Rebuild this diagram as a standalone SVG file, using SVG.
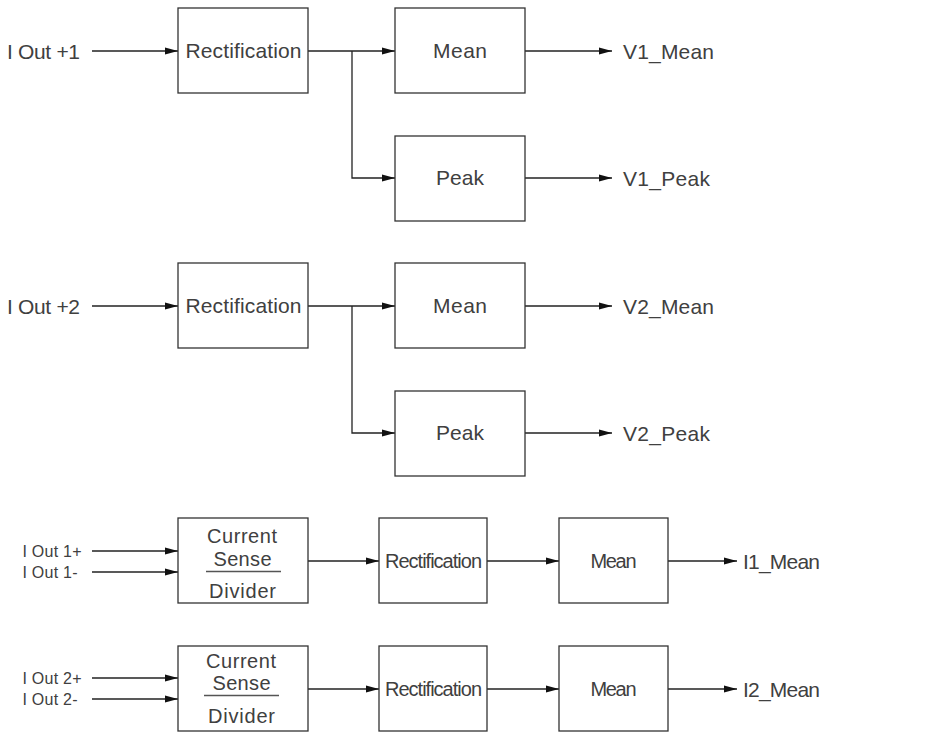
<svg xmlns="http://www.w3.org/2000/svg" width="927" height="732" viewBox="0 0 927 732">
<defs>
<marker id="arr" markerWidth="13" markerHeight="8" refX="13" refY="4" orient="auto" markerUnits="userSpaceOnUse">
<path d="M0,0.5 L13,4 L0,7.5 z" fill="#111"/>
</marker>
<style>
.box{fill:#fff;stroke:#333;stroke-width:1.3}
.t{font-family:"Liberation Sans",Arial,sans-serif;font-size:21px;fill:#404040;text-anchor:middle}
.b{font-family:"Liberation Sans",Arial,sans-serif;font-size:20px;fill:#404040;text-anchor:middle}
.l{font-family:"Liberation Sans",Arial,sans-serif;font-size:21px;fill:#404040}
.s{font-family:"Liberation Sans",Arial,sans-serif;font-size:16px;fill:#404040}
.a{fill:none;stroke:#222;stroke-width:1.3;marker-end:url(#arr)}
.d{stroke:#555;stroke-width:1.5}
</style>
</defs>
<rect width="927" height="732" fill="#fff"/>

<g id="connectors">
<line class="a" x1="92" y1="51" x2="178" y2="51"/>
<line class="a" x1="308" y1="51" x2="395" y2="51"/>
<polyline class="a" points="352,51 352,178 395,178"/>
<line class="a" x1="525" y1="51" x2="612" y2="51"/>
<line class="a" x1="525" y1="178" x2="612" y2="178"/>
<line class="a" x1="92" y1="306" x2="178" y2="306"/>
<line class="a" x1="308" y1="306" x2="395" y2="306"/>
<polyline class="a" points="352,306 352,433 395,433"/>
<line class="a" x1="525" y1="306" x2="612" y2="306"/>
<line class="a" x1="525" y1="433" x2="612" y2="433"/>
<line class="a" x1="92" y1="551" x2="178" y2="551"/>
<line class="a" x1="92" y1="572" x2="178" y2="572"/>
<line class="a" x1="308" y1="561" x2="379" y2="561"/>
<line class="a" x1="487" y1="561" x2="559" y2="561"/>
<line class="a" x1="668" y1="561" x2="737" y2="561"/>
<line class="a" x1="92" y1="678" x2="178" y2="678"/>
<line class="a" x1="92" y1="699" x2="178" y2="699"/>
<line class="a" x1="308" y1="689" x2="379" y2="689"/>
<line class="a" x1="487" y1="689" x2="559" y2="689"/>
<line class="a" x1="668" y1="689" x2="737" y2="689"/>
</g>

<g id="labels">
<text class="l" x="7" y="58.5" textLength="73">I Out +1</text>
<text class="l" x="623" y="58.5" textLength="91">V1_Mean</text>
<text class="l" x="623" y="185.5" textLength="87">V1_Peak</text>
<text class="l" x="7" y="313.5" textLength="73">I Out +2</text>
<text class="l" x="623" y="313.5" textLength="91">V2_Mean</text>
<text class="l" x="623" y="440.5" textLength="87">V2_Peak</text>
<text class="s" x="22.5" y="557" textLength="59">I Out 1+</text>
<text class="s" x="22.5" y="578" textLength="55">I Out 1-</text>
<text class="l" x="743" y="568.5" textLength="77">I1_Mean</text>
<text class="s" x="22.5" y="684" textLength="59">I Out 2+</text>
<text class="s" x="22.5" y="705" textLength="55">I Out 2-</text>
<text class="l" x="743" y="696.5" textLength="77">I2_Mean</text>
</g>

<g id="rect1"><rect class="box" x="178" y="8" width="130" height="85"/><text class="t" x="243.5" y="58" textLength="116">Rectification</text></g>
<g id="mean1"><rect class="box" x="395" y="8" width="130" height="85"/><text class="t" x="460" y="58" textLength="54">Mean</text></g>
<g id="peak1"><rect class="box" x="395" y="136" width="130" height="85"/><text class="t" x="460" y="185" textLength="48">Peak</text></g>

<g id="rect2"><rect class="box" x="178" y="263" width="130" height="85"/><text class="t" x="243.5" y="313" textLength="116">Rectification</text></g>
<g id="mean2"><rect class="box" x="395" y="263" width="130" height="85"/><text class="t" x="460" y="313" textLength="54">Mean</text></g>
<g id="peak2"><rect class="box" x="395" y="391" width="130" height="85"/><text class="t" x="460" y="440" textLength="48">Peak</text></g>

<g id="cs1"><rect class="box" x="178" y="518" width="130" height="85"/>
<text class="b" x="242" y="543" textLength="70">Current</text>
<text class="b" x="242.5" y="565.5" textLength="58">Sense</text>
<line class="d" x1="206" y1="571.5" x2="281" y2="571.5"/>
<text class="b" x="242.5" y="597.5" textLength="67">Divider</text></g>
<g id="rect3"><rect class="box" x="379" y="518" width="108" height="85"/><text class="b" x="433.5" y="567.5" textLength="97">Rectification</text></g>
<g id="mean3"><rect class="box" x="559" y="518" width="109" height="85"/><text class="b" x="613.5" y="567.5" textLength="46">Mean</text></g>

<g id="cs2"><rect class="box" x="178" y="646" width="130" height="85"/>
<text class="b" x="241" y="668" textLength="70">Current</text>
<text class="b" x="241.5" y="689.5" textLength="58">Sense</text>
<line class="d" x1="204" y1="695.5" x2="279" y2="695.5"/>
<text class="b" x="241.5" y="722.5" textLength="67">Divider</text></g>
<g id="rect4"><rect class="box" x="379" y="646" width="108" height="85"/><text class="b" x="433.5" y="695.5" textLength="97">Rectification</text></g>
<g id="mean4"><rect class="box" x="559" y="646" width="109" height="85"/><text class="b" x="613.5" y="695.5" textLength="46">Mean</text></g>
</svg>
